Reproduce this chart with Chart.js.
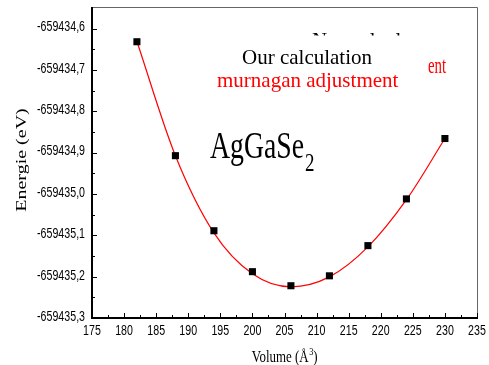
<!DOCTYPE html>
<html>
<head>
<meta charset="utf-8">
<script src="https://cdn.jsdelivr.net/npm/chart.js@4.4.0/dist/chart.umd.min.js"></script>
<style>
  html, body { margin: 0; padding: 0; background: #fff; }
  #wrap { width: 489px; height: 365px; }
</style>
</head>
<body>
<div id="wrap"><canvas id="chart" width="489" height="365"></canvas></div>
<script>
// Données (E en eV, V en Å^3)
const volumes = [182, 188, 194, 200, 206, 212, 218, 224, 230];
const energies = [-659434.632, -659434.9075, -659435.089, -659435.188, -659435.222,
                  -659435.198, -659435.125, -659435.012, -659434.866];

// Courbe d'ajustement (Murnaghan), lue le long de la ligne rouge
const fitVolumes = [182, 188, 194, 200, 206, 212, 218, 224, 230];
const fitEnergies = [-659434.6315, -659434.9075, -659435.094, -659435.193, -659435.2245,
                     -659435.2005, -659435.128, -659435.014, -659434.866];

const xTicks = [175, 180, 185, 190, 195, 200, 205, 210, 215, 220, 225, 230, 235];
const yTicks = [-659435.3, -659435.2, -659435.1, -659435.0, -659434.9, -659434.8, -659434.7, -659434.6];

const SERIF = '"Liberation Serif", "Times New Roman", serif';
const SANS = '"Liberation Sans", Arial, sans-serif';

const fmtX = v => String(v);
const fmtY = v => v.toFixed(1).replace('.', ',');

// texte avec compression horizontale (la figure d'origine est étirée)
function drawText(ctx, txt, x, y, size, color, sx, opts) {
    opts = opts || {};
    ctx.save();
    ctx.translate(x, y);
    ctx.scale(sx, 1);
    ctx.font = size + 'px ' + (opts.family || SERIF);
    ctx.fillStyle = color;
    ctx.textBaseline = opts.baseline || 'alphabetic';
    ctx.textAlign = opts.align || 'left';
    ctx.fillText(txt, 0, 0);
    const w = ctx.measureText(txt).width * sx;
    ctx.restore();
    return w;
}

function measure(ctx, txt, size, sx) {
    ctx.save();
    ctx.font = size + 'px ' + SERIF;
    const w = ctx.measureText(txt).width * sx;
    ctx.restore();
    return w;
}

const framePlugin = {
    id: 'frame',
    afterDraw(chart) {
        const ctx = chart.ctx;
        const a = chart.chartArea;
        const xs = chart.scales.x;
        const ys = chart.scales.y;

        ctx.save();
        // cadre haut / droite
        ctx.strokeStyle = '#666';
        ctx.lineWidth = 1;
        ctx.beginPath();
        ctx.moveTo(a.left, a.top + 0.5);
        ctx.lineTo(a.right + 0.5, a.top + 0.5);
        ctx.lineTo(a.right + 0.5, a.bottom);
        ctx.stroke();

        // axes gauche / bas
        ctx.strokeStyle = '#000';
        ctx.lineWidth = 2;
        ctx.beginPath();
        ctx.moveTo(a.left, a.top);
        ctx.lineTo(a.left, a.bottom);
        ctx.lineTo(a.right + 1, a.bottom);
        ctx.stroke();

        // graduations intérieures
        ctx.lineWidth = 1;
        ctx.beginPath();
        for (let v = 175; v <= 235.01; v += 2.5) {
            const px = Math.round(xs.getPixelForValue(v)) + 0.5;
            const major = Math.abs(v / 5 - Math.round(v / 5)) < 1e-6;
            ctx.moveTo(px, a.bottom);
            ctx.lineTo(px, a.bottom - (major ? 5 : 3));
        }
        for (let i = 0; i < 16; i++) {
            const v = yTicks[0] + i * 0.05;
            const py = Math.round(ys.getPixelForValue(v)) + 0.5;
            if (py < a.top + 2) continue;
            ctx.moveTo(a.left, py);
            ctx.lineTo(a.left + (i % 2 === 0 ? 5 : 3), py);
        }
        ctx.stroke();
        ctx.restore();

        // étiquettes des graduations (police étroite)
        xs.ticks.forEach(t => {
            drawText(ctx, fmtX(t.value), xs.getPixelForValue(t.value), 331, 14, '#000', 0.76,
                     { family: SANS, align: 'center', baseline: 'middle' });
        });
        ys.ticks.forEach(t => {
            drawText(ctx, fmtY(t.value), 85, ys.getPixelForValue(t.value) - 1, 14, '#000', 0.76,
                     { family: SANS, align: 'right', baseline: 'middle' });
        });

        // légende
        drawText(ctx, 'Our calculation', 242, 64, 21, '#000', 1);
        drawText(ctx, 'murnagan adjustment', 217, 87, 21, '#ff0000', 1);
        drawText(ctx, 'ent', 428, 73, 24, '#ff0000', 0.62);

        // restes d'une ligne masquée
        ctx.save();
        ctx.beginPath();
        ctx.rect(300, 33, 120, 2.5);
        ctx.clip();
        drawText(ctx, 'Nos calculs de Vol', 312, 47, 21, '#000', 1);
        ctx.restore();

        // composé
        const w = drawText(ctx, 'AgGaSe', 210, 158, 38, '#000', 0.73);
        drawText(ctx, '2', 210 + w + 1, 171, 26, '#000', 0.73);

        // titre axe Y
        ctx.save();
        ctx.translate(22, 160);
        ctx.rotate(-Math.PI / 2);
        ctx.scale(1, 0.7);
        ctx.font = '20px ' + SERIF;
        ctx.fillStyle = '#000';
        ctx.textAlign = 'center';
        ctx.textBaseline = 'middle';
        ctx.fillText('Energie (eV)', 0, 0);
        ctx.restore();

        // titre axe X
        const sx = 0.76;
        const w1 = measure(ctx, 'Volume (Å', 17, sx);
        const w2 = measure(ctx, '3', 11, sx);
        const w3 = measure(ctx, ')', 17, sx);
        let x0 = (a.left + a.right) / 2 - (w1 + w2 + w3) / 2;
        x0 += drawText(ctx, 'Volume (Å', x0, 362, 17, '#000', sx);
        x0 += drawText(ctx, '3', x0 + 0.5, 355, 11, '#000', sx) + 0.5;
        drawText(ctx, ')', x0, 362, 17, '#000', sx);
    }
};

const ctx = document.getElementById('chart').getContext('2d');
new Chart(ctx, {
    type: 'scatter',
    data: {
        datasets: [
            {
                label: 'murnagan adjustment',
                data: fitVolumes.map((v, i) => ({ x: v, y: fitEnergies[i] })),
                showLine: true,
                borderColor: '#ff0000',
                borderWidth: 1.2,
                pointRadius: 0,
                cubicInterpolationMode: 'monotone',
                order: 2
            },
            {
                label: 'Our calculation',
                data: volumes.map((v, i) => ({ x: v, y: energies[i] })),
                pointStyle: 'rect',
                pointRadius: 5,
                backgroundColor: '#000',
                borderColor: '#000',
                borderWidth: 0,
                order: 1
            }
        ]
    },
    options: {
        responsive: false,
        devicePixelRatio: 1,
        animation: false,
        layout: { padding: { top: 7, right: 12, left: 0, bottom: 0 } },
        plugins: {
            legend: { display: false },
            tooltip: { enabled: false }
        },
        scales: {
            x: {
                type: 'linear',
                min: 175,
                max: 235,
                afterBuildTicks: s => { s.ticks = xTicks.map(v => ({ value: v })); },
                afterFit: s => { s.height = 47; },
                grid: { display: false },
                border: { display: false },
                ticks: { display: false }
            },
            y: {
                type: 'linear',
                min: -659435.3,
                max: -659434.548,
                afterBuildTicks: s => { s.ticks = yTicks.map(v => ({ value: v })); },
                afterFit: s => { s.width = 92; },
                grid: { display: false },
                border: { display: false },
                ticks: { display: false }
            }
        }
    },
    plugins: [framePlugin]
});
</script>
</body>
</html>
